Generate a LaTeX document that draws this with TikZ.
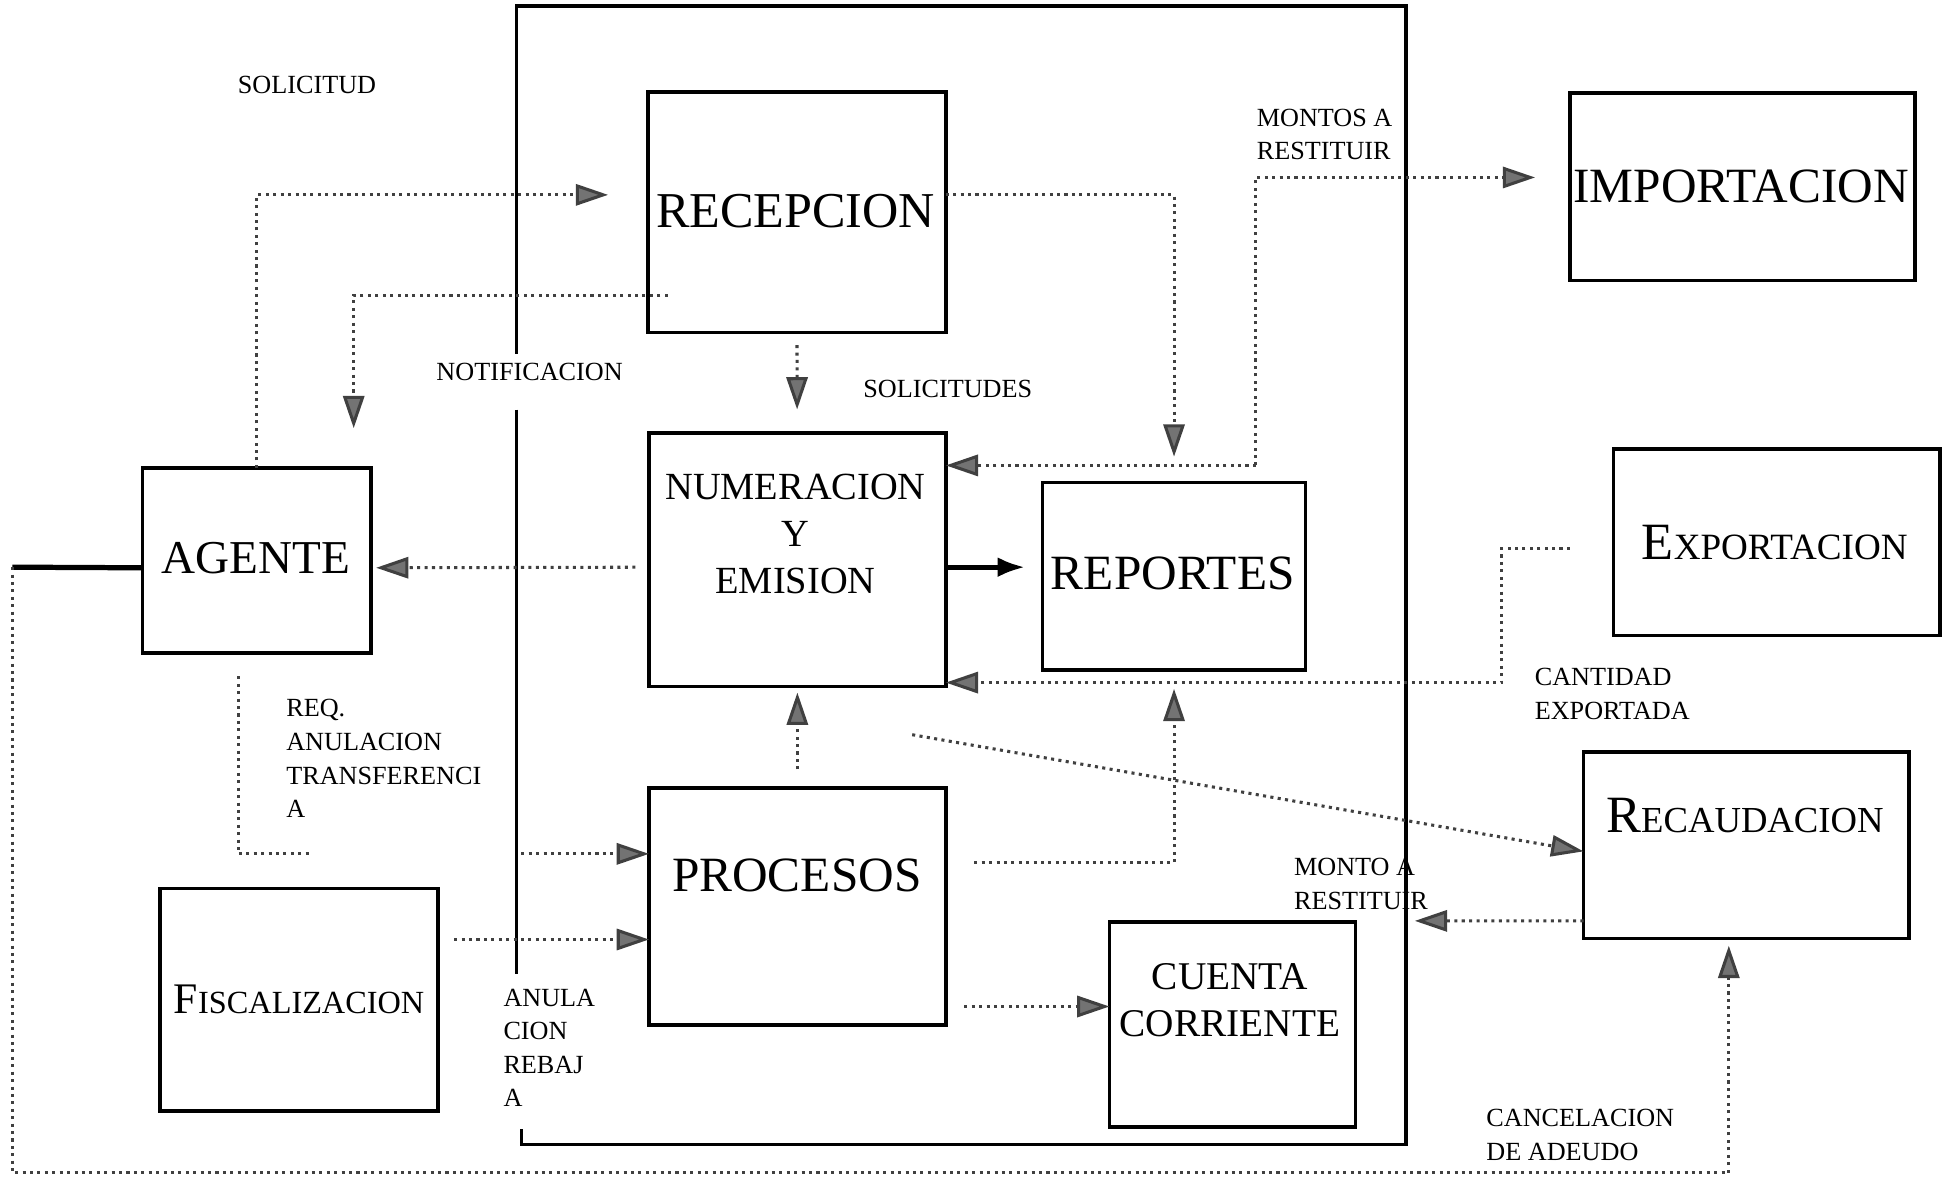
\documentclass[tikz,border=0pt]{standalone}
\usepackage{fontspec}
\setmainfont{Liberation Serif}
\usetikzlibrary{arrows.meta,positioning}

% large initial, smaller rest (small-caps look)
\newcommand{\capword}[4]{{\fontsize{#1}{#1}\selectfont #3}{\fontsize{#2}{#2}\selectfont #4}}

\begin{document}
\begin{tikzpicture}[x=0.01cm, y=-0.01cm,
    box/.style={draw, line width=0.8pt, inner sep=0pt, outer sep=0pt},
    bigtext/.style={font=\fontsize{11.3}{13}\selectfont, inner sep=0pt},
    midtext/.style={font=\fontsize{8.8}{10.8}\selectfont, align=center, inner sep=0pt},
    tag/.style={font=\fontsize{6}{7.7}\selectfont, align=left, inner sep=0pt, anchor=north west},
    flowline/.style={densely dotted, line width=0.7pt, black!75},
    flow/.style={flowline, -{Triangle[length=0.26cm, width=0.17cm, fill=black!55]}},
    solidflow/.style={line width=1.1pt, -{Latex[length=0.22cm, width=0.16cm]}},
    frame/.style={line width=0.8pt}]

    \useasboundingbox (0,0) rectangle (1568,948);

    % Frame
    \draw[frame] (416,285) -- (416,5) -- (1133,5) -- (1133,922) -- (420,922) -- (420,910);
    \draw[frame] (416,330) -- (416,785);

    % Boxes
    \node[box, minimum width=2.40cm, minimum height=1.94cm] (recep) at (642,171) {};
    \node[bigtext, font=\fontsize{11.5}{13}\selectfont] (recep-t) at (641,170) {RECEPCION};

    \node[box, minimum width=2.39cm, minimum height=2.04cm] (numer) at (642.5,451) {};
    \node[midtext] (numer-t) at (641,430) {NUMERACION\\Y\\EMISION};

    \node[box, minimum width=2.12cm, minimum height=1.51cm] (report) at (946,464.5) {};
    \node[bigtext] (report-t) at (945,462) {REPORTES};

    \node[box, minimum width=1.84cm, minimum height=1.49cm] (agente) at (207,451.5) {};
    \node[bigtext, font=\fontsize{10.8}{13}\selectfont] (agente-t) at (206,450) {AGENTE};

    \node[box, minimum width=2.39cm, minimum height=1.91cm] (proc) at (642.5,730.5) {};
    \node[bigtext] (proc-t) at (642,705) {PROCESOS};

    \node[box, minimum width=2.24cm, minimum height=1.79cm] (fisc) at (241,805.5) {};
    \node[inner sep=0pt] (fisc-t) at (241,805) {\capword{10}{7.4}{F}{ISCALIZACION}};

    \node[box, minimum width=1.98cm, minimum height=1.65cm] (cuenta) at (993,825.5) {};
    \node[midtext, font=\fontsize{9}{10.8}\selectfont] (cuenta-t) at (991,806) {CUENTA\\CORRIENTE};

    \node[box, minimum width=2.78cm, minimum height=1.51cm] (import) at (1404,150.5) {};
    \node[bigtext] (import-t) at (1403,150) {IMPORTACION};

    \node[box, minimum width=2.63cm, minimum height=1.50cm] (export) at (1431.5,437) {};
    \node[inner sep=0pt] (export-t) at (1430,437) {\capword{12}{8.5}{E}{XPORTACION}};

    \node[box, minimum width=2.62cm, minimum height=1.50cm] (recaud) at (1407,681) {};
    \node[inner sep=0pt] (recaud-t) at (1406,657) {\capword{12}{8.4}{R}{ECAUDACION}};

    % Bends and free ends
    \coordinate (solTip) at (490,157);
    \coordinate (notStart) at (538,238);
    \coordinate (notTip) at (285,345);
    \coordinate (montoJoin) at (1012,375);
    \coordinate (expStart) at (1265,442);
    \coordinate (expDrop) at (1210,550);
    \coordinate (diagStart) at (735,592);
    \coordinate (montoTip) at (1140,742);
    \coordinate (reqStart) at (192,545);
    \coordinate (reqEnd) at (250,688);
    \coordinate (reqIn) at (420,688);
    \coordinate (fiscOut) at (366,757);
    \coordinate (procOut) at (785,695);
    \coordinate (cuentaIn) at (777,811);
    \coordinate (loopA) at (10,457);
    \coordinate (loopB) at (1393,945);
    \path ([yshift=-0.6mm]numer.east) coordinate (numOut);

    % Solicitud
    \draw[flow] (agente.north) |- (solTip);

    % Notificacion
    \draw[flow] (notStart) -| (notTip);

    % Solicitudes
    \draw[flow, shorten <=1mm, shorten >=1.9mm] (recep) -- (numer);

    % Recepcion to reportes
    \draw[flow, shorten >=2.1mm] ([yshift=1.4mm]recep.east) -| (report.north);

    % Montos a restituir
    \draw[flow] (montoJoin) -- (montoJoin -| numer.east);
    \draw[flow, shorten >=2.8mm] (montoJoin) |- ([yshift=0.75mm]import.west);

    % Numeracion to agente
    \draw[flow, shorten <=1.1mm, shorten >=0.4mm] ([yshift=-0.6mm]numer.west) -- ([yshift=-0.6mm]agente.east);

    % Numeracion to reportes
    \draw[solidflow, shorten >=1.4mm] (numOut) -- (numOut -| report.west);

    % Cantidad exportada
    \draw[flow] (expStart) -| (expDrop) -- (expDrop -| numer.east);

    % Procesos up
    \draw[flow, shorten <=1.5mm, shorten >=0.5mm] (proc) -- (numer);
    \draw[flow, shorten >=1.5mm] (procOut) -| (report.south);

    % Diagonal to recaudacion
    \draw[flow] (diagStart) -- ([yshift=-0.5mm]recaud.west);

    % Monto a restituir
    \draw[flow] ([yshift=1.4mm]recaud.south west) -- (montoTip);

    % Req. anulacion
    \draw[flowline] (reqStart) |- (reqEnd);
    \draw[flow] (reqIn) -- (reqIn -| proc.west);

    % Fiscalizacion and cuenta corriente
    \draw[flow] (fiscOut) -- (fiscOut -| proc.west);
    \draw[flow] (cuentaIn) -- (cuentaIn -| cuenta.west);

    % Cancelacion de adeudo
    \draw[line width=1.2pt] ([yshift=-0.6mm]agente.west) -- (loopA);
    \draw[flow, shorten >=0.6mm] (loopA) |- (loopB) -- (loopB |- recaud.south);

    % Labels
    \node[tag] (lbl-sol) at (191,61) {SOLICITUD};
    \node[tag] (lbl-not) at (351,292) {NOTIFICACION};
    \node[tag] (lbl-sols) at (695,306) {SOLICITUDES};
    \node[tag] (lbl-montos) at (1012,87) {MONTOS A\\RESTITUIR};
    \node[tag] (lbl-cant) at (1236,538) {CANTIDAD\\EXPORTADA};
    \node[tag] (lbl-req) at (230,563) {REQ.\\ANULACION\\TRANSFERENCI\\A};
    \node[tag] (lbl-monto) at (1042,691) {MONTO A\\RESTITUIR};
    \node[tag] (lbl-anul) at (405,796) {ANULA\\CION\\REBAJ\\A};
    \node[tag] (lbl-canc) at (1197,893) {CANCELACION\\DE ADEUDO};

\end{tikzpicture}
\end{document}
